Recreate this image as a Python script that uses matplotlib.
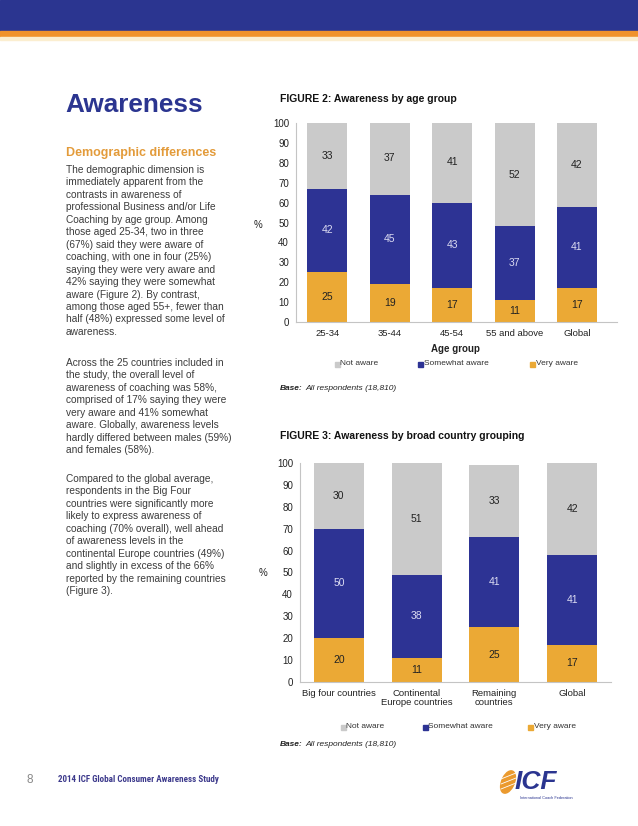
"""Report page: awareness of coaching by age group and by country grouping."""

import matplotlib

matplotlib.use("Agg")

import matplotlib.pyplot as plt
from matplotlib import font_manager
from matplotlib.patches import Rectangle, Ellipse

W, H = 638, 826

# Figure 2 data
age_groups = ["25-34", "35-44", "45-54", "55 and above", "Global"]
age_very = [25, 19, 17, 11, 17]
age_somewhat = [42, 45, 43, 37, 41]
age_not = [33, 37, 41, 52, 42]

# Figure 3 data
country_groups = ["Big four countries", "Continental\nEurope countries", "Remaining\ncountries", "Global"]
country_very = [20, 11, 25, 17]
country_somewhat = [50, 38, 41, 41]
country_not = [30, 51, 33, 42]

series_names = ["Not aware", "Somewhat aware", "Very aware"]
y_ticks = list(range(0, 101, 10))

BLUE = "#2d3394"
ORANGE = "#eba935"
GREY = "#cacaca"
HEAD_BLUE = "#2b3590"
HEAD_ORANGE = "#f0922b"
TEXT = "#3c3c3c"

plt.rcParams["font.family"] = ["Liberation Sans", "DejaVu Sans"]

para1 = [
    "The demographic dimension is",
    "immediately apparent from the",
    "contrasts in awareness of",
    "professional Business and/or Life",
    "Coaching by age group. Among",
    "those aged 25-34, two in three",
    "(67%) said they were aware of",
    "coaching, with one in four (25%)",
    "saying they were very aware and",
    "42% saying they were somewhat",
    "aware (Figure 2). By contrast,",
    "among those aged 55+, fewer than",
    "half (48%) expressed some level of",
    "awareness.",
]
para2 = [
    "Across the 25 countries included in",
    "the study, the overall level of",
    "awareness of coaching was 58%,",
    "comprised of 17% saying they were",
    "very aware and 41% somewhat",
    "aware. Globally, awareness levels",
    "hardly differed between males (59%)",
    "and females (58%).",
]
para3 = [
    "Compared to the global average,",
    "respondents in the Big Four",
    "countries were significantly more",
    "likely to express awareness of",
    "coaching (70% overall), well ahead",
    "of awareness levels in the",
    "continental Europe countries (49%)",
    "and slightly in excess of the 66%",
    "reported by the remaining countries",
    "(Figure 3).",
]


def fx(x):
    return x / W


def fy(y):
    return 1 - y / H


def px_axes(fig, left, top, right, bottom):
    return fig.add_axes([fx(left), fy(bottom), (right - left) / W, (bottom - top) / H])


def stacked_chart(fig, box, cats, very, somewhat, notaware, xlim):
    ax = px_axes(fig, *box)
    x = list(range(len(cats)))
    width = 0.64
    ax.bar(x, very, width, color=ORANGE)
    ax.bar(x, somewhat, width, bottom=very, color=BLUE)
    base = [a + b for a, b in zip(very, somewhat)]
    ax.bar(x, notaware, width, bottom=base, color=GREY)
    for i in x:
        ax.text(i, very[i] / 2, str(very[i]), ha="center", va="center", fontsize=7.5, color="#222222")
        ax.text(i, very[i] + somewhat[i] / 2, str(somewhat[i]), ha="center", va="center",
                fontsize=7.5, color="#dcdcf2")
        ax.text(i, base[i] + notaware[i] / 2, str(notaware[i]), ha="center", va="center",
                fontsize=7.5, color="#222222")
    ax.set_ylim(0, 100)
    ax.set_xlim(*xlim)
    ax.set_yticks(y_ticks)
    ax.set_xticks(x)
    ax.set_xticklabels(cats, fontsize=6.8, color="#222222", linespacing=1.0)
    ax.tick_params(axis="y", length=0, pad=5, labelsize=7, labelcolor="#222222")
    ax.tick_params(axis="x", length=0, pad=5)
    for side in ["top", "right"]:
        ax.spines[side].set_visible(False)
    for side in ["left", "bottom"]:
        ax.spines[side].set_color("#c4c4c4")
        ax.spines[side].set_linewidth(0.8)
    return ax


def legend_row(fig, y, xs):
    colors = [GREY, BLUE, ORANGE]
    for name, col, x0 in zip(series_names, colors, xs):
        fig.patches.append(Rectangle((fx(x0 - 2.5), fy(y + 2.5)), 5 / W, 5 / H,
                                     transform=fig.transFigure, color=col))
        fig.text(fx(x0 + 3.5), fy(y), name, fontsize=6, color="#333333", va="center")


def base_note(fig, y):
    fig.text(fx(280), fy(y), "Base:", fontsize=6, fontweight="bold", style="italic",
             color="#222222", va="center")
    fig.text(fx(305), fy(y), "All respondents (18,810)", fontsize=6, style="italic",
             color="#222222", va="center")


fig = plt.figure(figsize=(W / 100, H / 100), dpi=100)

# header bands
fig.patches.append(Rectangle((0, fy(31)), 1, 31 / H, transform=fig.transFigure, color=HEAD_BLUE))
fig.patches.append(Rectangle((0, fy(37.5)), 1, 6.5 / H, transform=fig.transFigure, color=HEAD_ORANGE))
fig.patches.append(Rectangle((0, fy(39.5)), 1, 2 / H, transform=fig.transFigure, color="#fbeed0"))

# left column text
fig.text(fx(65), fy(105), "Awareness", fontsize=18.8, fontweight="bold", color=HEAD_BLUE, va="center")
fig.text(fx(66), fy(153), "Demographic differences", fontsize=9, fontweight="bold",
         color="#e39b3a", va="center")
for lines, y0 in [(para1, 170), (para2, 363), (para3, 479)]:
    for i, line in enumerate(lines):
        fig.text(fx(66), fy(y0 + i * 12.45), line, fontsize=7.3, color=TEXT, va="center")

# Figure 2
fig.text(fx(280), fy(99), "FIGURE 2: Awareness by age group", fontsize=7.5, fontweight="bold",
         color="#111111", va="center")
stacked_chart(fig, (296, 123, 617, 322), age_groups, age_very, age_somewhat, age_not, (-0.5, 4.64))
fig.text(fx(258), fy(225), "%", fontsize=7, color="#222222", ha="center", va="center")
fig.text(fx(455), fy(349), "Age group", fontsize=7, fontweight="bold", color="#222222",
         ha="center", va="center")
legend_row(fig, 364, [337, 420, 532])
base_note(fig, 388)

# Figure 3
fig.text(fx(280), fy(436), "FIGURE 3: Awareness by broad country grouping", fontsize=7.5,
         fontweight="bold", color="#111111", va="center")
stacked_chart(fig, (300, 463, 611, 682), country_groups, country_very, country_somewhat, country_not,
              (-0.5, 3.5))
fig.text(fx(263), fy(573), "%", fontsize=7, color="#222222", ha="center", va="center")
legend_row(fig, 727, [343, 425, 530])
base_note(fig, 744)

# footer
installed = {f.name for f in font_manager.fontManager.ttflist}
narrow = [n for n in ["Roboto Condensed", "Liberation Sans Narrow", "DejaVu Sans Condensed"]
          if n in installed]
footer_family = narrow + ["Liberation Sans", "DejaVu Sans"]

fig.text(fx(30), fy(780), "8", fontsize=8.5, color="#888888", va="center", ha="center")
footer = fig.text(fx(58), fy(780), "2014 ICF Global Consumer Awareness Study", fontsize=8,
                  fontweight="bold", color="#3d3a8c", va="center", family=footer_family)
renderer = fig.canvas.get_renderer()
w = footer.get_window_extent(renderer).width
footer.set_fontsize(8 * 160 / w)

fig.patches.append(Ellipse((fx(508), fy(782)), 12 / W, 25 / H, angle=-35,
                           transform=fig.transFigure, color="#eb9a2e"))
for dy in (-5, 0, 5):
    fig.lines.append(plt.Line2D([fx(501), fx(516)], [fy(784 + dy), fy(778 + dy)],
                                transform=fig.transFigure, color="white", lw=0.6))
fig.text(fx(515), fy(782), "ICF", fontsize=19, fontweight="bold", style="italic",
         color=HEAD_BLUE, va="center")
fig.text(fx(520), fy(798), "International Coach Federation", fontsize=2.8, color=HEAD_BLUE,
         va="center")

fig.savefig("out.png", dpi=100)
